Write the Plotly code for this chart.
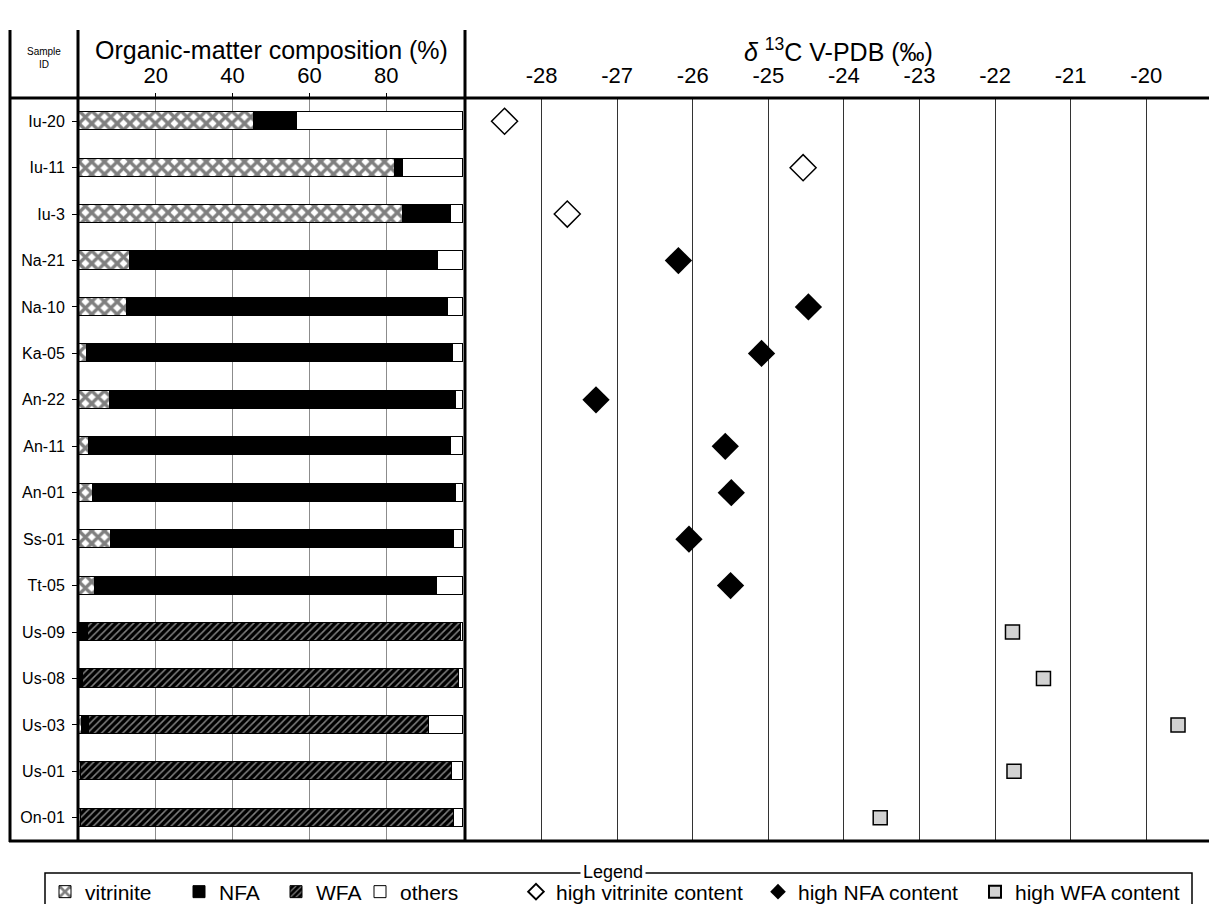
import plotly.graph_objects as go

W, H = 1209, 904
FONT = "Liberation Sans, Arial, Helvetica, sans-serif"

# ---------------- data ----------------
samples = ["Iu-20", "Iu-11", "Iu-3", "Na-21", "Na-10", "Ka-05", "An-22", "An-11",
           "An-01", "Ss-01", "Tt-05", "Us-09", "Us-08", "Us-03", "Us-01", "On-01"]

vitrinite = [45.5, 82.2, 84.4, 13.2, 12.6, 2.0, 8.2, 2.7, 3.7, 8.3, 4.1, 0.0, 0.0, 0.7, 0.5, 0.5]
nfa       = [11.3, 2.2, 12.6, 80.4, 83.6, 95.4, 90.1, 94.3, 94.6, 89.4, 89.1, 2.4, 1.1, 2.0, 0.0, 0.0]
wfa       = [0.0, 0.0, 0.0, 0.0, 0.0, 0.0, 0.0, 0.0, 0.0, 0.0, 0.0, 97.0, 97.9, 88.5, 96.6, 97.2]
others    = [43.2, 15.6, 3.0, 6.4, 3.8, 2.6, 1.7, 3.0, 1.7, 2.3, 6.8, 0.6, 1.0, 8.8, 2.9, 2.3]

d13c = [-28.49, -24.54, -27.66, -26.19, -24.47, -25.09, -27.28, -25.57,
        -25.49, -26.05, -25.50, -21.77, -21.36, -19.58, -21.75, -23.52]
d13c_group = ["vitrinite", "vitrinite", "vitrinite",
              "NFA", "NFA", "NFA", "NFA", "NFA", "NFA", "NFA", "NFA",
              "WFA", "WFA", "WFA", "WFA", "WFA"]

comp_ticks = [20, 40, 60, 80]
d13c_ticks = [-28, -27, -26, -25, -24, -23, -22, -21, -20]
d13c_ticktext = ["-28", "-27", "-26", "-25", "-24", "-23", "-22", "-21", "-20"]


def px(x):
    return x / W


def py(y):
    return 1 - y / H


fig = go.Figure()

# ---------------- stacked composition bars ----------------
bar_specs = [
    ("vitrinite", vitrinite,
     dict(color="white", pattern=dict(shape="x", fgcolor="black", bgcolor="white",
                                      size=9, solidity=0.6)), "legend"),
    ("NFA", nfa, dict(color="black"), "legend2"),
    ("WFA", wfa,
     dict(color="black", pattern=dict(shape="/", fgcolor="white", bgcolor="black",
                                      size=5, solidity=0.3)), "legend3"),
    ("others", others, dict(color="white"), "legend4"),
]
for name, vals, mk, lg in bar_specs:
    mk = dict(mk, line=dict(color="black", width=1))
    fig.add_trace(go.Bar(y=samples, x=vals, name=name, orientation="h", marker=mk,
                         width=0.39, xaxis="x", yaxis="y", legend=lg, showlegend=True))

# ---------------- d13C markers ----------------
marker_specs = [
    ("vitrinite", "high vitrinite content",
     dict(symbol="diamond-open", size=20, color="black", line=dict(width=1.5, color="black")),
     "legend5"),
    ("NFA", "high NFA content",
     dict(symbol="diamond", size=21, color="black", line=dict(width=0)), "legend6"),
    ("WFA", "high WFA content",
     dict(symbol="square", size=14, color="#d2d2d2", line=dict(color="black", width=1.5)),
     "legend7"),
]
for grp, label, mk, lg in marker_specs:
    xs = [v for v, g in zip(d13c, d13c_group) if g == grp]
    ys = [s for s, g in zip(samples, d13c_group) if g == grp]
    fig.add_trace(go.Scatter(x=xs, y=ys, mode="markers", name=label, marker=mk,
                             xaxis="x2", yaxis="y2", legend=lg, showlegend=True))

ydom = [py(841), py(98)]

fig.update_layout(
    width=W, height=H,
    margin=dict(l=0, r=0, t=0, b=0, autoexpand=False),
    paper_bgcolor="white", plot_bgcolor="white",
    barmode="stack", bargap=0, showlegend=True,
    font=dict(family=FONT, color="black"),
    xaxis=dict(domain=[px(79), px(463)], range=[0, 100], side="top", anchor="y",
               tickvals=comp_ticks, tickfont=dict(size=22), ticks="outside", ticklen=4,
               tickcolor="black", ticklabelstandoff=1, showgrid=True, gridcolor="#8c8c8c",
               gridwidth=1, zeroline=False, showline=False, fixedrange=True),
    yaxis=dict(domain=ydom, type="category", categoryorder="array", categoryarray=samples,
               range=[15.5, -0.5], anchor="x", ticks="outside", ticklen=6, tickcolor="black",
               tickfont=dict(size=16), ticklabelstandoff=4, showgrid=False,
               zeroline=False, showline=False, fixedrange=True),
    xaxis2=dict(domain=[px(466), 1], range=[-29, -19.17], side="top", anchor="y2",
                tickvals=d13c_ticks, ticktext=d13c_ticktext, tickfont=dict(size=22),
                ticks="outside", ticklen=4, tickcolor="rgba(0,0,0,0)", ticklabelstandoff=1,
                showgrid=True, gridcolor="#333333", gridwidth=1,
                zeroline=False, showline=False, fixedrange=True),
    yaxis2=dict(domain=ydom, type="category", categoryorder="array", categoryarray=samples,
                range=[15.5, -0.5], anchor="x2", showticklabels=False, ticks="",
                showgrid=False, zeroline=False, showline=False, fixedrange=True),
)

# ---------------- legends (one entry each, placed like the original) ----------------
leg_common = dict(orientation="h", xanchor="left", yanchor="middle", y=py(892),
                  bgcolor="rgba(0,0,0,0)", borderwidth=0, font=dict(size=21, family=FONT),
                  itemclick=False, itemdoubleclick=False, visible=True)
leg_x = {"legend": 45, "legend2": 179, "legend3": 276, "legend4": 360,
         "legend5": 516, "legend6": 758, "legend7": 975}
for key, xpix in leg_x.items():
    cfg = dict(leg_common, x=px(xpix))
    if key in ("legend5", "legend6", "legend7"):
        cfg["itemsizing"] = "constant"
    fig.update_layout({key: cfg})

# ---------------- frame lines ----------------
def hline(x0, x1, y, w=3):
    fig.add_shape(type="line", xref="paper", yref="paper", x0=px(x0), x1=px(x1),
                  y0=py(y), y1=py(y), line=dict(color="black", width=w))


def vline(x, y0, y1, w=3):
    fig.add_shape(type="line", xref="paper", yref="paper", x0=px(x), x1=px(x),
                  y0=py(y0), y1=py(y1), line=dict(color="black", width=w))


vline(10, 30, 842)
vline(78, 30, 842)
vline(465, 30, 842)
hline(9, 1209, 98)
hline(9, 1209, 841)

# legend box
fig.add_shape(type="rect", xref="paper", yref="paper", x0=px(45), x1=px(1192),
              y0=py(873), y1=py(910), line=dict(color="black", width=1.5),
              fillcolor="rgba(0,0,0,0)")

# ---------------- text ----------------
fig.add_annotation(text="Sample<br>ID", x=px(44), y=py(58), xref="paper", yref="paper",
                   showarrow=False, font=dict(size=10), align="center",
                   xanchor="center", yanchor="middle")
fig.add_annotation(text="Organic-matter composition (%)", x=px(271), y=py(50),
                   xref="paper", yref="paper", showarrow=False, font=dict(size=25),
                   xanchor="center", yanchor="middle")
fig.add_annotation(text="<i>δ</i> <sup>13</sup>C V-PDB (‰)", x=px(838), y=py(50),
                   xref="paper", yref="paper", showarrow=False, font=dict(size=25),
                   xanchor="center", yanchor="middle")
fig.add_annotation(text="Legend", x=px(613), y=py(872), xref="paper", yref="paper",
                   showarrow=False, font=dict(size=18), bgcolor="white", borderpad=2,
                   xanchor="center", yanchor="middle")

fig.write_html("out.html", post_script="document.body.style.margin='0';",
               config={"displayModeBar": False})
